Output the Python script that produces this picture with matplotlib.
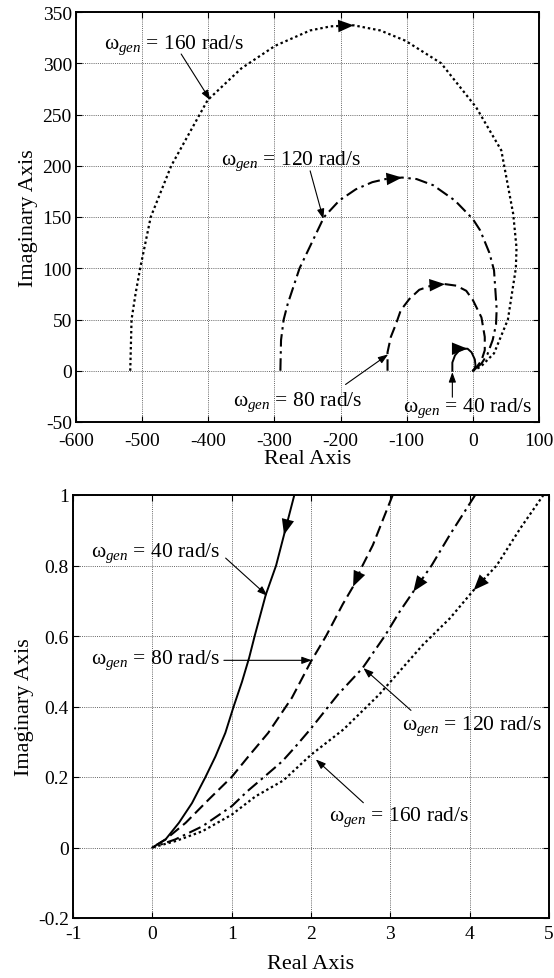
import numpy as np
import matplotlib
matplotlib.use("Agg")
import matplotlib.pyplot as plt

plt.rcParams['font.family'] = ['Liberation Serif', 'DejaVu Serif']
plt.rcParams['mathtext.fontset'] = 'custom'
plt.rcParams['mathtext.rm'] = 'Liberation Serif'
plt.rcParams['mathtext.it'] = 'Liberation Serif:italic'
plt.rcParams['axes.unicode_minus'] = False

# ---------------- data: top panel (full loci) ----------------
speeds = ['40', '80', '120', '160']

top_re_40 = [-31, -31, -27, -21, -14, -8, -2, 3, 4, 2, 0]
top_im_40 = [0, 8, 15, 19.5, 21.5, 21.5, 18, 11, 5, 1.5, 0]
top_re_80 = [-129, -129, -124, -116, -109, -96, -81, -60, -42, -25, -10, 0, 13, 18, 18, 13, 4, 0]
top_im_80 = [0, 18, 33, 46, 59, 70, 79, 83.7, 84.5, 83, 78, 69, 52, 33, 20, 10, 2, 0]
top_re_120 = [-291, -290, -286, -280, -262, -242, -225, -202, -177, -152, -132, -107, -85, -60, -27,
              0, 11, 25, 32, 36, 35, 30, 22, 13, 4, 0]
top_im_120 = [0, 30, 50, 65, 100, 127, 150, 166, 177, 184, 187, 188.5, 187, 181, 166,
              148, 137, 115, 98, 60, 45, 30, 16, 7, 2, 0]
top_re_160 = [-518, -516, -510, -503, -487, -456, -401, -350, -299, -246, -215, -180, -140, -102,
              -48, 5, 43, 61, 66, 65, 53, 32, 12, 0]
top_im_160 = [0, 50, 75, 100, 150, 200, 264, 295, 317, 332, 336, 337, 332, 322,
              300, 257, 215, 153, 120, 100, 50, 17, 4, 0]
top_arrow_idx = [5, 8, 11, 11]

# ---------------- data: bottom panel (zoom near origin), travel order ----------------
bot_re_40 = [1.79, 1.66, 1.56, 1.43, 1.29, 1.22, 1.13, 1.025, 0.92, 0.795, 0.67, 0.50, 0.335, 0.167, 0]
bot_im_40 = [1.0, 0.887, 0.8, 0.717, 0.6, 0.538, 0.47, 0.4, 0.325, 0.258, 0.2, 0.126, 0.07, 0.023, 0]
bot_re_80 = [3.03, 2.78, 2.65, 2.53, 2.40, 2.19, 2.0, 1.76, 1.46, 1.21, 1.0, 0.71, 0.42, 0.167, 0]
bot_im_80 = [1.0, 0.858, 0.8, 0.74, 0.69, 0.6, 0.528, 0.425, 0.325, 0.258, 0.2, 0.136, 0.07, 0.023, 0]
bot_re_120 = [4.07, 3.75, 3.52, 3.29, 3.12, 2.93, 2.65, 2.34, 1.99, 1.8, 1.64, 1.46, 1.2, 1.0, 0.63, 0.29, 0]
bot_im_120 = [1.0, 0.887, 0.8, 0.726, 0.67, 0.6, 0.509, 0.434, 0.335, 0.285, 0.245, 0.21, 0.16, 0.117, 0.06, 0.023, 0]
bot_re_160 = [4.93, 4.64, 4.34, 4.05, 3.75, 3.41, 3.0, 2.86, 2.41, 2.0, 1.65, 1.30, 1.0, 0.63, 0.29, 0]
bot_im_160 = [1.0, 0.906, 0.8, 0.73, 0.65, 0.575, 0.47, 0.434, 0.335, 0.263, 0.19, 0.145, 0.093, 0.046, 0.018, 0]
bot_arrow_idx = [1, 3, 3, 3]

# annotation anchors (text centre, arrow start, arrow tip)
top_text_xy = [(-8, -35.6), (-265, -29.7), (-275, 205.7), (-452, 319)]
top_arrow_from = [(-31, -25.8), (-192.5, -13.4), (-246, 195), (-441, 309)]
top_arrow_to = [(-31, -1.3), (-128, 16), (-226, 148), (-397, 264)]

bot_text_xy = [(0.045, 0.838), (0.04, 0.533), (4.03, 0.347), (3.11, 0.088)]
bot_arrow_from = [(0.924, 0.821), (0.902, 0.531), (3.26, 0.389), (2.66, 0.127)]
bot_arrow_to = [(1.45, 0.714), (2.01, 0.531), (2.66, 0.509), (2.06, 0.25)]

styles = ['-', (0, (5.5, 2.5)), (0, (6, 2.2, 1.2, 2.2)), (0, (1.1, 1.3))]
widths = [1.4, 1.5, 1.5, 1.6]

TICK_FS = 14
LAB_FS = 16
ANN_FS = 15.5

fig = plt.figure(figsize=(5.54, 9.79), dpi=100)
ax1 = fig.add_axes([76/554, 1-423/979, 463/554, 410/979])
ax2 = fig.add_axes([73/554, 1-919/979, 476/554, 423/979])


def style_axes(ax, xpad):
    ax.grid(True, color='#666666', linestyle=(0, (1, 1.2)), linewidth=0.7)
    ax.set_axisbelow(True)
    for s in ax.spines.values():
        s.set_linewidth(1.4)
    ax.tick_params(direction='in', length=4, width=0.8, labelsize=TICK_FS, top=True, right=True)
    ax.tick_params(axis='x', pad=xpad)
    ax.tick_params(axis='y', pad=3)
    ax.set_xlabel('Real Axis', fontsize=LAB_FS, labelpad=0)
    ax.set_ylabel('Imaginary Axis', fontsize=LAB_FS, labelpad=3)


def draw_arrowhead(ax, xs, ys, k):
    ax.annotate('', xy=(xs[k], ys[k]), xytext=(xs[k-1], ys[k-1]),
                arrowprops=dict(arrowstyle='-|>,head_length=0.75,head_width=0.3',
                                lw=0, color='k', shrinkA=0, shrinkB=0,
                                mutation_scale=15), zorder=5)


def label(ax, txt_xy, a_from, a_to, spd):
    ax.text(txt_xy[0], txt_xy[1], 'ω$_{gen}$ = ' + spd + ' rad/s', fontsize=ANN_FS,
            ha='center', va='center', zorder=6)
    ax.annotate('', xy=a_to, xytext=a_from,
                arrowprops=dict(arrowstyle='-|>,head_length=0.5,head_width=0.18',
                                lw=0.8, color='k', shrinkA=0, shrinkB=0,
                                mutation_scale=12), zorder=6)


top_curves = [(top_re_40, top_im_40), (top_re_80, top_im_80),
              (top_re_120, top_im_120), (top_re_160, top_im_160)]
bot_curves = [(bot_re_40, bot_im_40), (bot_re_80, bot_im_80),
              (bot_re_120, bot_im_120), (bot_re_160, bot_im_160)]

# top panel
for i, (xs, ys) in enumerate(top_curves):
    ax1.plot(xs, ys, color='k', linestyle=styles[i], linewidth=widths[i], zorder=3)
    draw_arrowhead(ax1, xs, ys, top_arrow_idx[i])
    label(ax1, top_text_xy[i], top_arrow_from[i], top_arrow_to[i], speeds[i])
ax1.set_xlim(-600, 100)
ax1.set_ylim(-50, 350)
ax1.set_xticks(np.arange(-600, 101, 100))
ax1.set_yticks(np.arange(-50, 351, 50))
style_axes(ax1, 7)

# bottom panel
for i, (xs, ys) in enumerate(bot_curves):
    ax2.plot(xs, ys, color='k', linestyle=styles[i], linewidth=widths[i], zorder=3)
    draw_arrowhead(ax2, xs, ys, bot_arrow_idx[i])
    label(ax2, bot_text_xy[i], bot_arrow_from[i], bot_arrow_to[i], speeds[i])
ax2.set_xlim(-1, 5)
ax2.set_ylim(-0.2, 1)
ax2.set_xticks(np.arange(-1, 6, 1))
ax2.set_yticks([-0.2, 0, 0.2, 0.4, 0.6, 0.8, 1.0])
ax2.set_yticklabels(['-0.2', '0', '0.2', '0.4', '0.6', '0.8', '1'])
style_axes(ax2, 5)
ax2.xaxis.labelpad = 9

fig.savefig('out.png', dpi=100)
